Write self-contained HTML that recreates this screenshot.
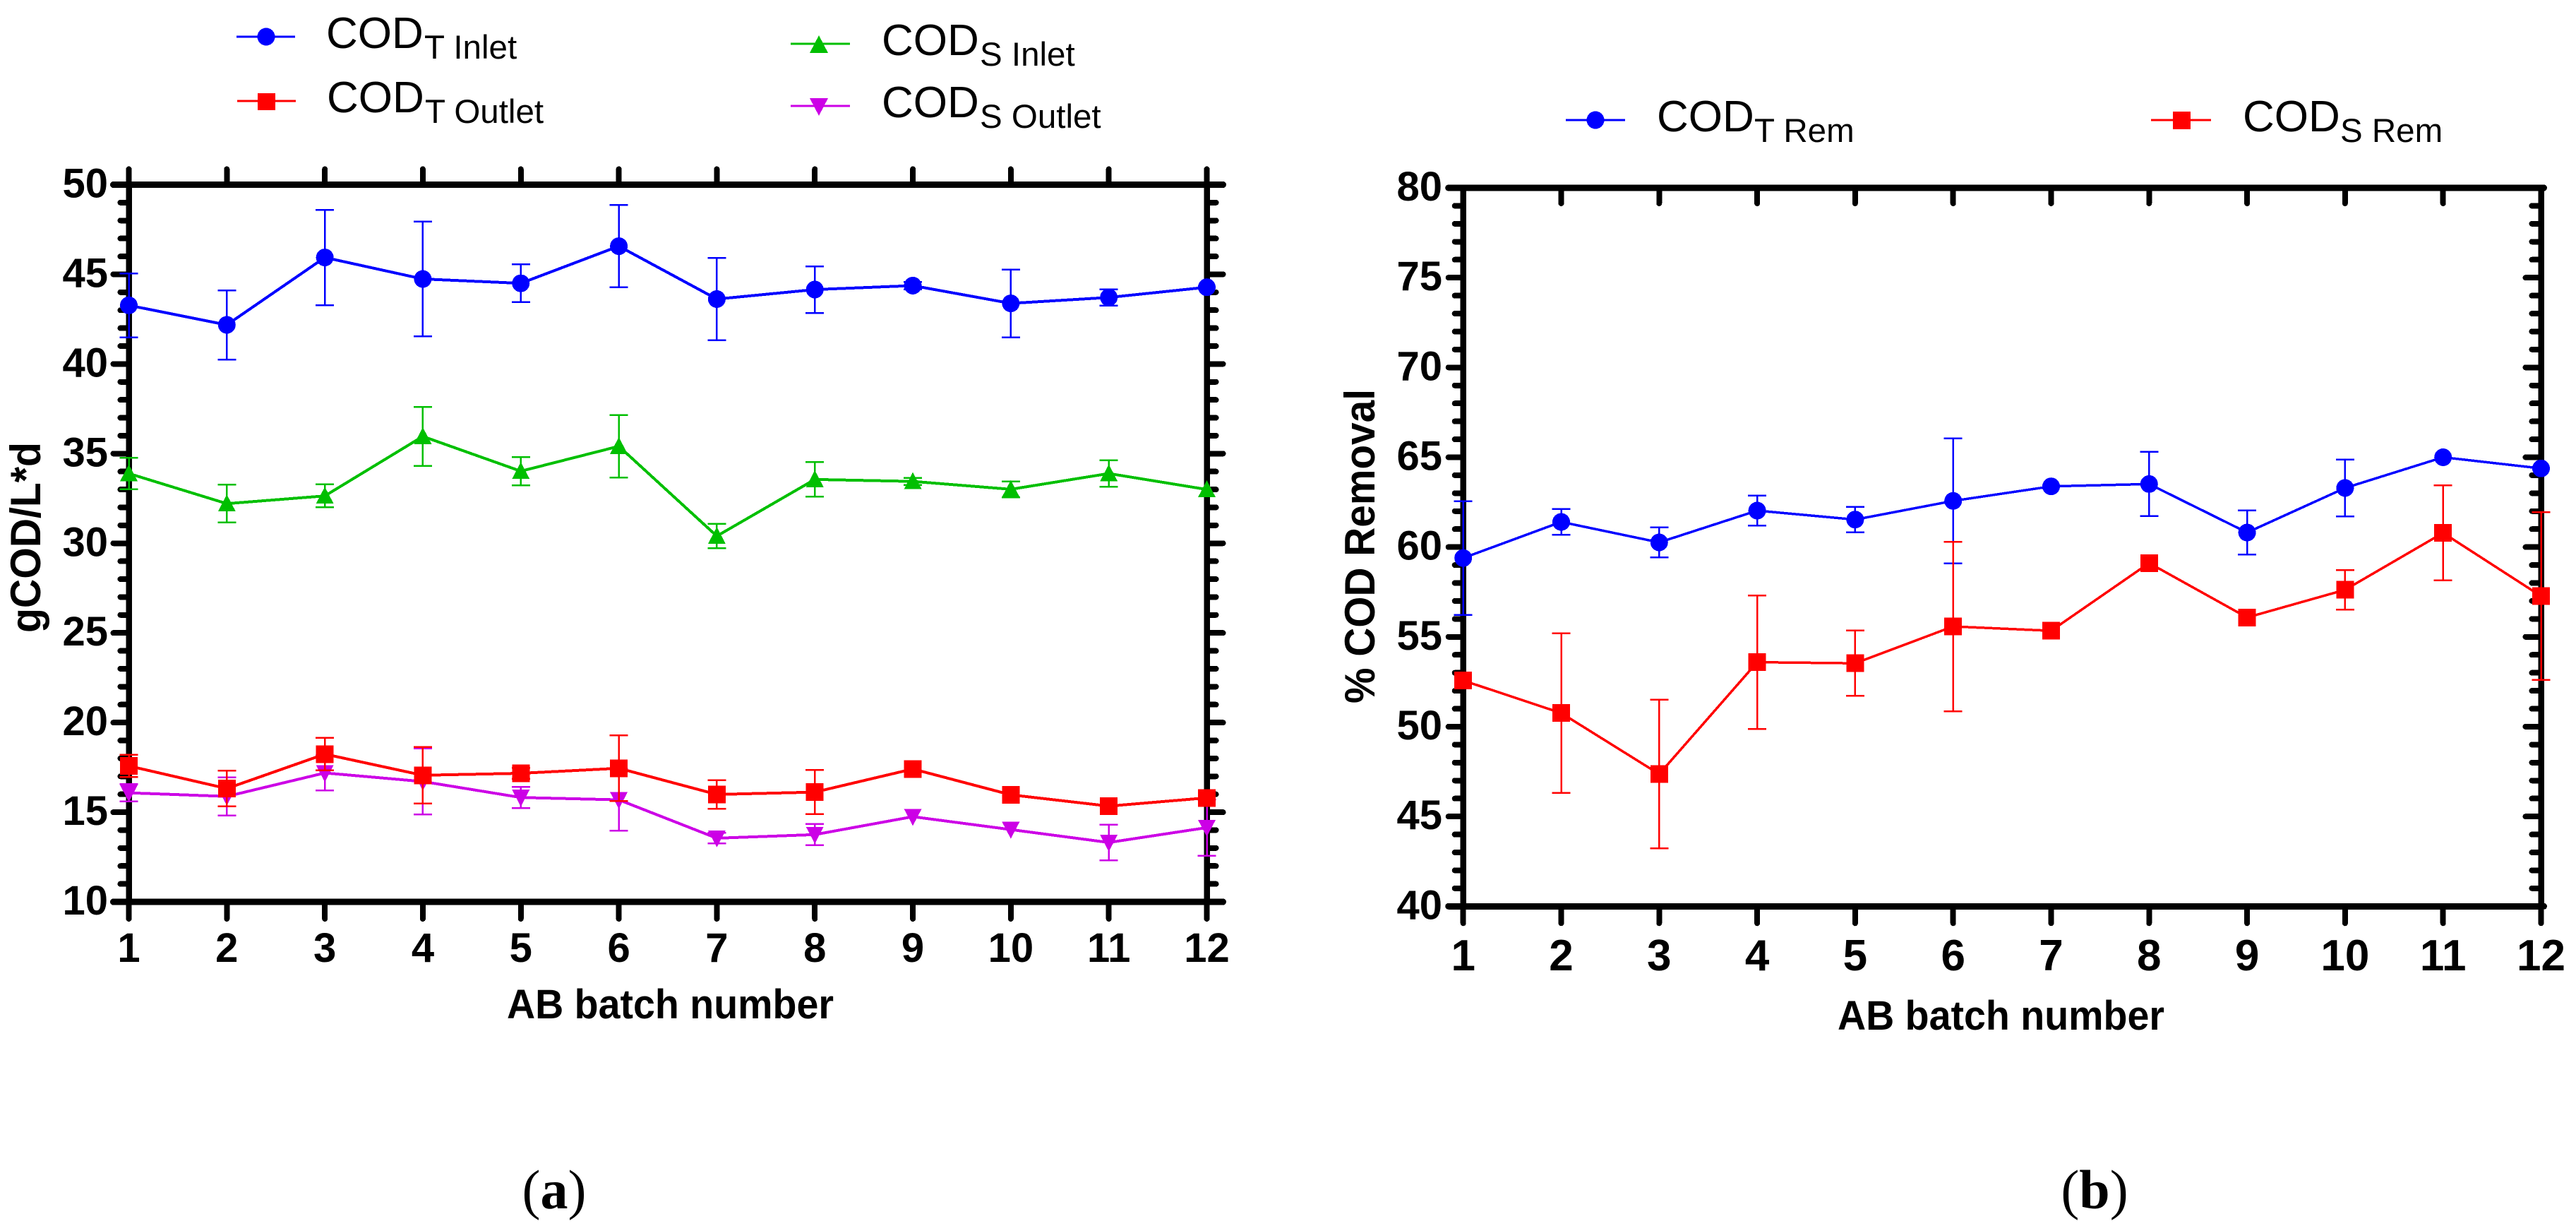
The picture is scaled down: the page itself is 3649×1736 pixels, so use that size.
<!DOCTYPE html>
<html>
<head>
<meta charset="utf-8">
<title>COD charts</title>
<style>
html,body{margin:0;padding:0;background:#fff;}
svg{display:block;shape-rendering:crispEdges;}
text{font-family:"Liberation Sans",Arial,sans-serif;fill:#000;}
.tick{font-weight:bold;}
.title{font-weight:bold;}
.leg{font-size:62px;}
.sub{font-size:47.5px;}
.cap{font-family:"Liberation Serif",serif;font-size:78px;}
</style>
</head>
<body>
<svg id="chart" xmlns="http://www.w3.org/2000/svg" width="3649" height="1736" viewBox="0 0 3649 1736">
  <rect x="0" y="0" width="3649" height="1736" fill="#fff"/>

  <!-- legend a -->
  <g>
    <g>
      <line x1="335" y1="52" x2="418" y2="52" stroke="#0000ff" stroke-width="3"/>
      <circle cx="377" cy="52" r="12.5" fill="#0000ff"/>
      <text class="leg" x="462" y="68">COD</text><text class="sub" x="601" y="83">T Inlet</text>
    </g>
    <g>
      <line x1="336" y1="143" x2="419" y2="143" stroke="#ff0000" stroke-width="3"/>
      <rect x="365" y="132" width="25" height="24" fill="#ff0000"/>
      <text class="leg" x="463" y="159">COD</text><text class="sub" x="602" y="174">T Outlet</text>
    </g>
    <g>
      <line x1="1120" y1="62" x2="1204" y2="62" stroke="#00bf00" stroke-width="3"/>
      <polygon points="1160,50 1173,75 1147,75" fill="#00bf00"/>
      <text class="leg" x="1249" y="78">COD</text><text class="sub" x="1388" y="93">S Inlet</text>
    </g>
    <g>
      <line x1="1120" y1="150" x2="1204" y2="150" stroke="#cc00e6" stroke-width="3"/>
      <polygon points="1147,139 1173,139 1160,164" fill="#cc00e6"/>
      <text class="leg" x="1249" y="166">COD</text><text class="sub" x="1388" y="181">S Outlet</text>
    </g>
  </g>

  <!-- legend b -->
  <g>
    <g>
      <line x1="2218" y1="170" x2="2302" y2="170" stroke="#0000ff" stroke-width="3"/>
      <circle cx="2260" cy="170" r="12.5" fill="#0000ff"/>
      <text class="leg" x="2347" y="186">COD</text><text class="sub" x="2485" y="201">T Rem</text>
    </g>
    <g>
      <line x1="3047" y1="170" x2="3132" y2="170" stroke="#ff0000" stroke-width="3"/>
      <rect x="3078" y="158" width="25" height="25" fill="#ff0000"/>
      <text class="leg" x="3177" y="186">COD</text><text class="sub" x="3315" y="201">S Rem</text>
    </g>
  </g>

  <!-- axis titles -->
  <text class="title" font-size="60" transform="translate(57,896) rotate(-90)" textLength="270" lengthAdjust="spacingAndGlyphs">gCOD/L*d</text>
  <text class="title" font-size="60" transform="translate(1947,996) rotate(-90)" textLength="445" lengthAdjust="spacingAndGlyphs">% COD Removal</text>
  <text class="title" font-size="58" x="718" y="1442" textLength="463" lengthAdjust="spacingAndGlyphs">AB batch number</text>
  <text class="title" font-size="58" x="2603" y="1458" textLength="463" lengthAdjust="spacingAndGlyphs">AB batch number</text>

  <!-- panel captions -->
  <text class="cap" x="785" y="1711" text-anchor="middle">(<tspan font-weight="bold">a</tspan>)</text>
  <text class="cap" x="2967" y="1711" text-anchor="middle">(<tspan font-weight="bold">b</tspan>)</text>

  <g id="panel-a"></g>
  <g id="panel-b"></g>
</svg>

<script>
// shared categories
var batches = [1,2,3,4,5,6,7,8,9,10,11,12];

// panel (a) tick labels
var yTicksA = [10,15,20,25,30,35,40,45,50];
// panel (b) tick labels
var yTicksB = [40,45,50,55,60,65,70,75,80];

// panel (a) series
var codTInlet     = [43.27,42.18,45.94,44.74,44.50,46.57,43.62,44.15,44.37,43.38,43.71,44.28];
var codTInletErr  = [1.78,1.93,2.66,3.20,1.05,2.30,2.29,1.30,0.20,1.89,0.45,0];
var codSInlet     = [33.89,32.21,32.64,35.96,34.02,35.41,30.40,33.56,33.45,33.01,33.89,33.00];
var codSInletErr  = [0.87,1.05,0.64,1.65,0.79,1.74,0.68,0.96,0.20,0.44,0.74,0];
var codTOutlet    = [17.58,16.32,18.24,17.06,17.17,17.45,15.99,16.12,17.41,15.97,15.34,15.80];
var codTOutletErr = [0.62,1.00,0.90,1.57,0.30,1.83,0.80,1.23,0,0,0,0];
var codSOutlet    = [16.08,15.88,17.19,16.71,15.82,15.69,13.55,13.75,14.75,14.03,13.31,14.14];
var codSOutletErr = [0.48,1.06,0.98,1.84,0.59,1.72,0.30,0.59,0,0,0.99,1.57];

// panel (b) series
var codTRem    = [59.39,61.40,60.26,62.03,61.53,62.57,63.38,63.51,60.81,63.29,65.00,64.38];
var codTRemErr = [3.16,0.72,0.84,0.84,0.70,3.48,0,1.79,1.23,1.58,0,0];
var codSRem    = [52.57,50.76,47.36,53.59,53.53,55.58,55.34,59.11,56.08,57.62,60.79,57.27];
var codSRemErr = [0,4.44,4.14,3.72,1.82,4.72,0,0,0,1.10,2.65,4.67];

var NS = 'http://www.w3.org/2000/svg';
function el(tag, parent, attrs, text) {
  var e = document.createElementNS(NS, tag);
  for (var k in attrs) { e.setAttribute(k, attrs[k]); }
  if (text !== undefined) { e.textContent = text; }
  parent.appendChild(e);
  return e;
}

function drawSeries(parent, key, color, shape, values, errs, xs, ys, lw, ew) {
  var g = el('g', parent, {});
  
  
  batches.forEach(function (b, i) {
    if (!errs[i]) { return; }
    var top = ys(values[i] + errs[i]);
    var bot = ys(values[i] - errs[i]);
    var x = xs(b);
    var bar = el('path', g, {d: 'M' + x + ' ' + top + 'V' + bot + 'M' + (x - 13) + ' ' + top + 'H' + (x + 13) + 'M' + (x - 13) + ' ' + bot + 'H' + (x + 13), fill: 'none', stroke: color, 'stroke-width': ew});
    
    
  });
  var d = values.map(function (v, i) { return (i ? 'L' : 'M') + xs(batches[i]) + ' ' + ys(v); }).join('');
  var line = el('path', g, {d: d, fill: 'none', stroke: color, 'stroke-width': lw, 'stroke-linejoin': 'round'});
  
  
  values.forEach(function (v, i) {
    var x = xs(batches[i]), y = ys(v), m;
    if (shape === 'circle') {
      m = el('circle', g, {cx: x, cy: y, r: 12.5, fill: color});
    } else if (shape === 'square') {
      m = el('rect', g, {x: x - 12.5, y: y - 12.5, width: 25, height: 25, fill: color});
    } else if (shape === 'up') {
      m = el('polygon', g, {points: x + ',' + (y - 13) + ' ' + (x + 12.5) + ',' + (y + 11) + ' ' + (x - 12.5) + ',' + (y + 11), fill: color});
    } else {
      m = el('polygon', g, {points: x + ',' + (y + 13) + ' ' + (x + 12.5) + ',' + (y - 11) + ' ' + (x - 12.5) + ',' + (y - 11), fill: color});
    }
    
    
  });
}

function drawAxes(parent, cfg) {
  var xs = cfg.xs, ys = cfg.ys;
  var axes = el('g', parent, {stroke: '#000', 'stroke-linecap': 'round', fill: 'none'});
  
  
  var L = xs(batches[0]), R = xs(batches[batches.length - 1]);
  var yMin = cfg.ticks[0], yMax = cfg.ticks[cfg.ticks.length - 1];
  var T = ys(yMax), B = ys(yMin);

  var frame = el('path', axes, {d: 'M' + L + ' ' + T + 'V' + B + 'M' + R + ' ' + T + 'V' + B, 'stroke-width': 8.5, 'stroke-linecap': 'butt'});
  
  
  var hor = el('path', axes, {d: 'M' + (L - cfg.leftMajor) + ' ' + T + 'H' + (R + cfg.rightOver) + 'M' + (L - cfg.leftMajor) + ' ' + B + 'H' + (R + cfg.rightOver), 'stroke-width': 9});
  
  

  // y ticks, one per unit
  for (var v = yMin; v <= yMax; v++) {
    var major = (v - yMin) % 5 === 0;
    var y = ys(v);
    var lLen = major ? cfg.leftMajor : cfg.leftMinor;
    var rEnd = major ? R + cfg.rightMajor : R + cfg.rightMinor;
    var yt = el('path', axes, {d: 'M' + (L - lLen) + ' ' + y + 'H' + L + 'M' + R + ' ' + y + 'H' + rEnd, 'stroke-width': 8});
    
    
  }
  // x ticks
  batches.forEach(function (b) {
    var x = xs(b);
    var xt = el('path', axes, {d: 'M' + x + ' ' + B + 'V' + (B + 24) + 'M' + x + ' ' + T + 'V' + (T + cfg.topTick), 'stroke-width': 8});
    
    
    var lab = el('text', parent, {'class': 'tick', x: x, y: cfg.xLabelY, 'text-anchor': 'middle', 'font-size': cfg.xFont}, String(b));
    
    
  });
  // y labels
  cfg.ticks.forEach(function (t) {
    var lab = el('text', parent, {'class': 'tick', x: cfg.yLabelX, y: ys(t) + 18, 'text-anchor': 'end', 'font-size': 58}, String(t));
    
    
  });
}

// panel a scales
function xA(b) { return 182.5 + (b - 1) * (1709.5 - 182.5) / 11; }
function yA(v) { return 1277 - (v - 10) * (1277 - 261.5) / 40; }
// panel b scales
function xB(b) { return 2072.7 + (b - 1) * (3599.5 - 2072.7) / 11; }
function yB(v) { return 1283.3 - (v - 40) * (1283.3 - 266) / 40; }

var pa = document.getElementById('panel-a');
var pb = document.getElementById('panel-b');

drawAxes(pa, {id: 'a', xs: xA, ys: yA, ticks: yTicksA, leftMajor: 22, leftMinor: 12, rightMajor: 23, rightMinor: 13, rightOver: 23, topTick: -22, xLabelY: 1362, xFont: 58, yLabelX: 153});
drawAxes(pb, {id: 'b', xs: xB, ys: yB, ticks: yTicksB, leftMajor: 21, leftMinor: 12, rightMajor: -22, rightMinor: -13, rightOver: 4, topTick: 22, xLabelY: 1374, xFont: 62, yLabelX: 2043});

drawSeries(pa, 'cod-s-outlet', '#cc00e6', 'down', codSOutlet, codSOutletErr, xA, yA, 4, 2.5);
drawSeries(pa, 'cod-s-inlet', '#00bf00', 'up', codSInlet, codSInletErr, xA, yA, 4, 2.5);
drawSeries(pa, 'cod-t-outlet', '#ff0000', 'square', codTOutlet, codTOutletErr, xA, yA, 4, 2.5);
drawSeries(pa, 'cod-t-inlet', '#0000ff', 'circle', codTInlet, codTInletErr, xA, yA, 4, 2.5);

drawSeries(pb, 'cod-t-rem', '#0000ff', 'circle', codTRem, codTRemErr, xB, yB, 3.5, 2.5);
drawSeries(pb, 'cod-s-rem', '#ff0000', 'square', codSRem, codSRemErr, xB, yB, 3.5, 2.5);
</script>
</body>
</html>
